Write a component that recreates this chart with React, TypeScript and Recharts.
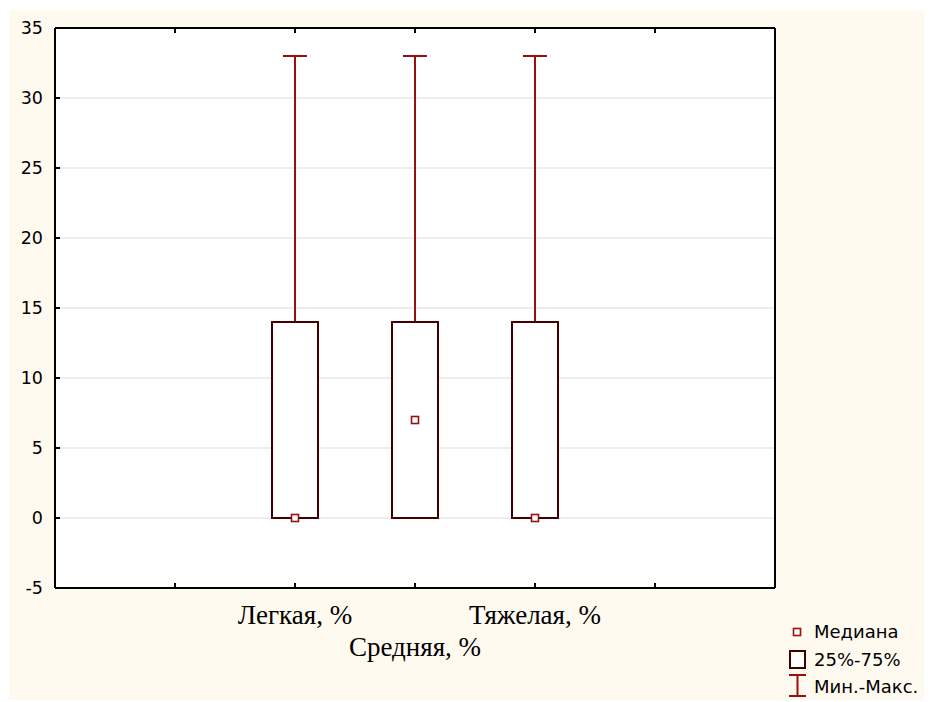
import React from "react";
import {
  ComposedChart,
  Bar,
  Scatter,
  XAxis,
  YAxis,
  CartesianGrid,
} from "recharts";

// categories on the x axis; the outer two are empty slots
const categories = ["", "Легкая, %", "Средняя, %", "Тяжелая, %", ""];
const minValues = [null, 0, 0, 0, null];
const q1Values = [null, 0, 0, 0, null];
const medianValues = [null, 0, 7, 0, null];
const q3Values = [null, 14, 14, 14, null];
const maxValues = [null, 33, 33, 33, null];

const yTicks = [-5, 0, 5, 10, 15, 20, 25, 30, 35];
const legendLabels = ["Медиана", "25%-75%", "Мин.-Макс."];

const BOX_STROKE = "#3f0000";
const WHISKER = "#990f0f";
const SANS = "'DejaVu Sans', Verdana, sans-serif";
const SERIF = "'Liberation Serif', 'Times New Roman', serif";

const chartData = categories.map((name, i) => {
  const row: any = { name };
  if (q1Values[i] != null) {
    row.box = [q1Values[i], q3Values[i]];
    row.whisker = [minValues[i], maxValues[i]];
    row.median = medianValues[i];
  }
  return row;
});

function BoxShape(props: any) {
  const { x, y, width, height } = props;
  if (x == null || isNaN(y)) return null;
  return (
    <rect
      x={x}
      y={y}
      width={width}
      height={height}
      fill="#fff"
      stroke={BOX_STROKE}
      strokeWidth={2}
    />
  );
}

function WhiskerShape(props: any) {
  const { x, y, width, height } = props;
  if (x == null || isNaN(y)) return null;
  const cx = x + width / 2;
  return (
    <g stroke={WHISKER} strokeWidth={2}>
      <line x1={cx} y1={y} x2={cx} y2={y + height} />
      <line x1={x} y1={y} x2={x + width} y2={y} />
      <line x1={x} y1={y + height} x2={x + width} y2={y + height} />
    </g>
  );
}

function MedianShape(props: any) {
  const { cx, cy, payload } = props;
  if (payload == null || payload.median == null || isNaN(cy)) return null;
  return (
    <rect
      x={cx - 3.5}
      y={cy - 3.5}
      width={7}
      height={7}
      fill="#fff"
      stroke={WHISKER}
      strokeWidth={1.6}
    />
  );
}

function BottomTick(props: any) {
  const { x, y, payload, index } = props;
  const second = index % 2 === 0;
  return (
    <g>
      <line x1={x} y1={y} x2={x} y2={y - 5} stroke="#000" strokeWidth={2} />
      {payload.value ? (
        <text
          x={x}
          y={y + (second ? 68 : 36)}
          textAnchor="middle"
          fontFamily={SERIF}
          fontSize={27}
          fill="#000"
        >
          {payload.value}
        </text>
      ) : null}
    </g>
  );
}

function TopTick(props: any) {
  const { x, y } = props;
  return <line x1={x} y1={y} x2={x} y2={y + 5} stroke="#000" strokeWidth={2} />;
}

function LeftTick(props: any) {
  const { x, y, payload } = props;
  return (
    <g>
      <line x1={x} y1={y} x2={x + 5} y2={y} stroke="#000" strokeWidth={2} />
      <text
        x={x - 12}
        y={y}
        dy="0.36em"
        textAnchor="end"
        fontFamily={SANS}
        fontSize={17.5}
        fill="#000"
      >
        {payload.value}
      </text>
    </g>
  );
}

function RightTick(props: any) {
  const { x, y } = props;
  return <line x1={x} y1={y} x2={x - 5} y2={y} stroke="#000" strokeWidth={2} />;
}

function LegendBox() {
  return (
    <svg
      width={150}
      height={80}
      style={{ position: "absolute", left: 772, top: 610 }}
    >
      <rect x={12.5} y={8.5} width={7} height={7} fill="#fff" stroke={WHISKER} strokeWidth={1.6} />
      <rect x={9} y={31} width={15} height={17} fill="#fff" stroke={BOX_STROKE} strokeWidth={2} />
      <g stroke={WHISKER} strokeWidth={2}>
        <line x1={16.5} y1={55} x2={16.5} y2={76} />
        <line x1={8} y1={55} x2={25} y2={55} />
        <line x1={8} y1={76} x2={25} y2={76} />
      </g>
      {legendLabels.map((label, i) => (
        <text
          key={label}
          x={33}
          y={12 + i * 27.5}
          dy="0.36em"
          fontFamily={SANS}
          fontSize={18}
          fill="#000"
        >
          {label}
        </text>
      ))}
    </svg>
  );
}

export default function App() {
  return (
    <div
      style={{
        position: "relative",
        left: 1,
        top: 2,
        width: 923,
        height: 692,
        background: "#FFFAF0",
      }}
    >
      <ComposedChart
        width={923}
        height={692}
        data={chartData}
        margin={{ top: 17, right: 156, bottom: 0, left: 0 }}
        style={{ position: "absolute", left: 0, top: 0 }}
      >
        <CartesianGrid vertical={false} stroke="#dcdcdc" fill="#fff" />
        <XAxis
          dataKey="name"
          padding={{ left: 60, right: 60 }}
          interval={0}
          height={114}
          tickSize={0}
          tickMargin={0}
          tickLine={false}
          axisLine={{ stroke: "#000", strokeWidth: 2 }}
          tick={<BottomTick />}
        />
        <XAxis
          xAxisId="top"
          orientation="top"
          dataKey="name"
          padding={{ left: 60, right: 60 }}
          interval={0}
          height={1}
          tickSize={0}
          tickMargin={0}
          tickLine={false}
          axisLine={{ stroke: "#000", strokeWidth: 2 }}
          tick={<TopTick />}
        />
        <YAxis
          type="number"
          domain={[-5, 35]}
          ticks={yTicks}
          interval={0}
          width={46}
          tickSize={0}
          tickMargin={0}
          tickLine={false}
          axisLine={{ stroke: "#000", strokeWidth: 2 }}
          tick={<LeftTick />}
        />
        <YAxis
          yAxisId="right"
          orientation="right"
          type="number"
          domain={[-5, 35]}
          ticks={yTicks}
          interval={0}
          width={1}
          tickSize={0}
          tickMargin={0}
          tickLine={false}
          axisLine={{ stroke: "#000", strokeWidth: 2 }}
          tick={<RightTick />}
        />
        <Bar
          xAxisId="top"
          dataKey="whisker"
          barSize={24}
          shape={<WhiskerShape />}
          isAnimationActive={false}
        />
        <Bar
          dataKey="box"
          barSize={46}
          shape={<BoxShape />}
          isAnimationActive={false}
        />
        <Scatter
          dataKey="median"
          shape={<MedianShape />}
          isAnimationActive={false}
        />
      </ComposedChart>
      <LegendBox />
    </div>
  );
}
